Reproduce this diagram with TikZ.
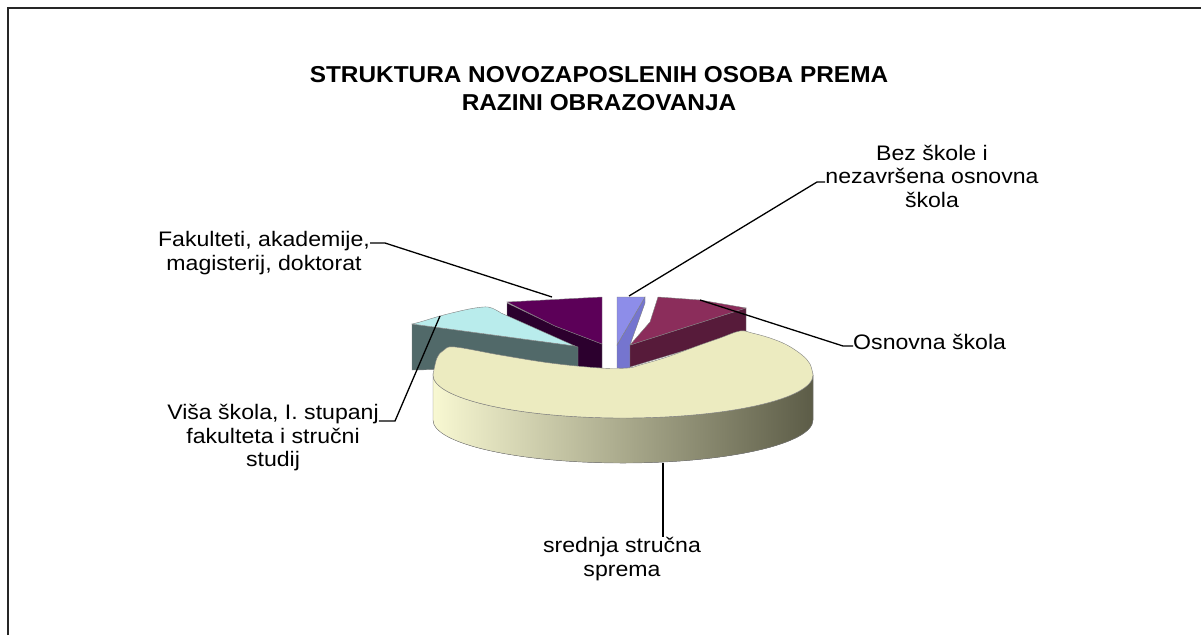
\documentclass[tikz,border=0pt]{standalone}
\usepackage{fontspec}
\setmainfont{Liberation Sans}
\usetikzlibrary{positioning}

\definecolor{creamtop}{HTML}{ECEBC0}
\definecolor{creamleft}{HTML}{F8F8D2}
\definecolor{creammid}{HTML}{BDBC98}
\definecolor{creamright}{HTML}{5C5C47}
\definecolor{tealtop}{HTML}{B9ECEC}
\definecolor{tealside}{HTML}{516969}
\definecolor{purpletop}{HTML}{5C0058}
\definecolor{purpleside}{HTML}{2C002E}
\definecolor{peritop}{HTML}{8D8DE9}
\definecolor{periside}{HTML}{7575CF}
\definecolor{maroontop}{HTML}{8B2D5B}
\definecolor{maroonside}{HTML}{571B3A}

\begin{document}
\begin{tikzpicture}[x=1pt,y=-1pt,
    slice/.style={draw=black!50,line width=0.4pt},
    leader/.style={draw=black,line width=1.3pt},
    lbl/.style={font=\fontsize{21}{23.5}\selectfont,align=center,inner sep=0pt,xscale=1.1}]

  \useasboundingbox (0,0) rectangle (1201,635);
  \fill[white] (0,0) rectangle (1201,635);
  \draw[line width=2pt,black!85] (8,635) -- (8,8) -- (1201,8);

  % title
  \node[font=\bfseries\fontsize{23}{28}\selectfont,align=center,xscale=1.06] (title) at (599,89)
    {STRUKTURA NOVOZAPOSLENIH OSOBA PREMA\\RAZINI OBRAZOVANJA};

  % back slices
  \filldraw[slice,fill=purpleside] (507,303) -- (555,326) -- (602,344) -- (602,368) -- (578,368) -- (507,318) -- cycle;
  \filldraw[slice,fill=purpletop] (507,302) -- (602,297) -- (602,344) -- (555,326) -- cycle;
  \filldraw[slice,fill=tealside] (412,324) -- (575,346) -- (578,347) -- (578,367) -- (412,370) -- cycle;
  \filldraw[slice,fill=tealtop] plot[smooth,tension=0.6] coordinates {(412,324) (420,322) (440,316) (460,311) (475,308) (488,307) (496,310) (501,313)}
    -- (575,346) -- cycle;
  \filldraw[slice,fill=periside] (645,297) -- (645,303) -- (630,345) -- (630,368) -- (617,368) -- (617,345) -- cycle;
  \filldraw[slice,fill=peritop] (617,297) -- (645,297) -- (617,345) -- cycle;
  \filldraw[slice,fill=maroonside] (630,345) -- (746,308) -- (746,332) -- (630,367) -- cycle;
  \filldraw[slice,fill=maroontop] (658,297) -- (700,300) -- (746,308) -- (630,345) -- (650,322) -- cycle;

  % big slice
  \filldraw[slice,left color=creamleft,middle color=creammid,right color=creamright]
    (433,375) -- (433,420) arc (180:0:190 and 43) -- (813,375) arc (0:180:190 and 43) -- cycle;
  \filldraw[slice,fill=creamtop] (433,375) arc (180:0:190 and 43)
    -- plot[smooth,tension=0.6] coordinates {(813,375) (810,364) (802,355) (787,345) (770,338) (752,333) (740,331)
      (720,338) (700,345) (667,357) (640,365) (628,368) (600,368) (550,363) (500,355) (455,347) (444,350) (437,358) (433,375)};

  % points on the slices
  \coordinate (pBez) at (629,296);
  \coordinate (pOsn) at (700,300);
  \coordinate (pFak) at (552,297);
  \coordinate (pVisa) at (440,316);
  \coordinate (pSred) at (663,463);
  \coordinate (kBez) at (817,182);
  \coordinate (kOsn) at (843,346);
  \coordinate (kFak) at (385,243);
  \coordinate (kVisa) at (395,421);

  % labels
  \node[lbl] (lblBez) at (932,176) {Bez škole i\\nezavršena osnovna\\škola};
  \node[lbl,anchor=west] (lblOsn) at (853,342) {Osnovna škola};
  \node[lbl] (lblFak) at (264,253) {Fakulteti, akademije,\\magisterij, doktorat};
  \node[lbl] (lblVisa) at (273,438) {Viša škola, I. stupanj\\fakulteta i stručni\\studij};
  \node[lbl] (lblSred) at (622,559) {srednja stručna\\sprema};

  % leader lines
  \draw[leader] (pBez) -- (kBez) -- (kBez -| lblBez.west);
  \draw[leader] (pOsn) -- (kOsn) -- (kOsn -| lblOsn.west);
  \draw[leader] (pFak) -- (kFak) -- (kFak -| lblFak.east);
  \draw[leader] (pVisa) -- (kVisa) -- (kVisa -| lblVisa.east);
  \draw[leader] (pSred) -- (pSred |- lblSred.north);

\end{tikzpicture}
\end{document}
